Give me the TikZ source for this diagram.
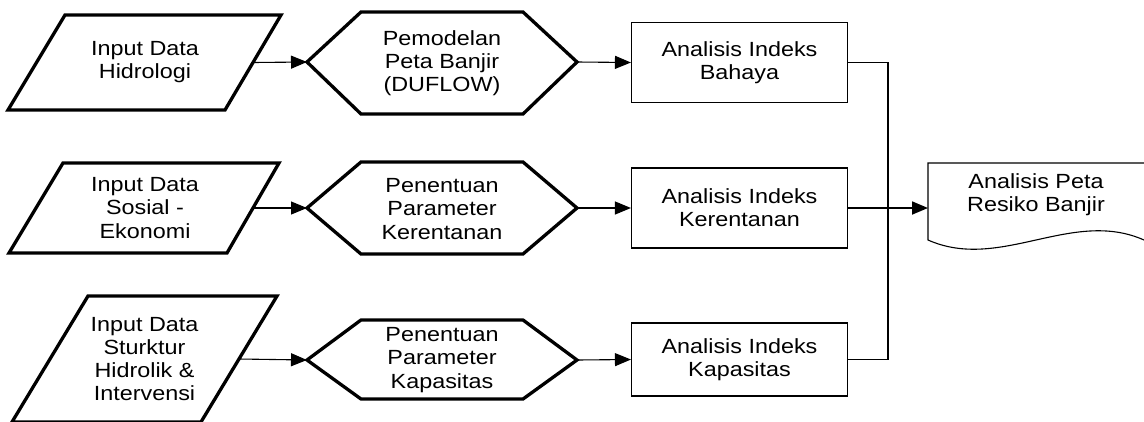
\documentclass[tikz,border=0pt]{standalone}
\usepackage{fontspec}
\setmainfont{Liberation Sans}[FakeStretch=1.14]
\usetikzlibrary{arrows.meta,calc}
\begin{document}
\begin{tikzpicture}[x=1pt,y=-1pt,
  thickshape/.style={line width=3.3pt, line join=miter},
  txt/.style={align=center, font=\fontsize{20.5}{23.2}\selectfont, inner sep=0pt},
  abox/.style={draw, line width=1.1pt, minimum width=216pt, align=center,
    font=\fontsize{20.5}{23.2}\selectfont, inner sep=0pt},
  thin/.style={line width=1.1pt},
  conn/.style={line width=1.1pt, -{Triangle[length=16pt,width=13pt]}}]
\useasboundingbox (0,0) rectangle (1144,421);
\clip (0,0) rectangle (1144,421);

% parallelograms (inputs)
\draw[thickshape] (65,15) -- (281,15) -- (225,110) -- (8,110) -- cycle;
\node[txt] (in1) at (145,62) {Input Data\\Hidrologi};
\coordinate (in1e) at (253,62.5);

\draw[thickshape] (63,163) -- (279,163) -- (227,253) -- (9,253) -- cycle;
\node[txt] (in2) at (145,208) {Input Data\\Sosial -\\Ekonomi};
\coordinate (in2e) at (253,208);

\draw[thickshape] (88,296) -- (277,296) -- (201,422) -- (12,422) -- cycle;
\node[txt] (in3) at (144.5,359) {Input Data\\Sturktur\\Hidrolik \&\\Intervensi};
\coordinate (in3e) at (239,359);

% hexagons (processes)
\draw[thickshape] (307,62) -- (361,12) -- (523,12) -- (577,62) -- (523,114) -- (361,114) -- cycle;
\node[txt] (hx1) at (442,63) {Pemodelan\\Peta Banjir\\(DUFLOW)};
\coordinate (hx1w) at (307,62);
\coordinate (hx1e) at (577,62);

\draw[thickshape] (307,208) -- (361,162) -- (523,162) -- (577,208) -- (523,254) -- (361,254) -- cycle;
\node[txt] (hx2) at (442,209) {Penentuan\\Parameter\\Kerentanan};
\coordinate (hx2w) at (307,208);
\coordinate (hx2e) at (577,208);

\draw[thickshape] (307,360) -- (361,320) -- (523,320) -- (577,360) -- (523,399) -- (361,399) -- cycle;
\node[txt] (hx3) at (442,360) {Penentuan\\Parameter\\Kapasitas};
\coordinate (hx3w) at (307,360);
\coordinate (hx3e) at (577,360);

% analysis boxes
\node[abox, minimum height=80.5pt] (b1) at (739.5,62.5) {Analisis Indeks\\Bahaya};
\node[abox, minimum height=80pt] (b2) at (739.5,208) {Analisis Indeks\\Kerentanan};
\node[abox, minimum height=73pt] (b3) at (739.5,359.5) {Analisis Indeks\\Kapasitas};

% document shape
\draw[thin] (1150,163) -- (928,163) -- (928,240)
  .. controls (1000,272) and (1072,208) .. (1144,240) -- (1150,243);
\node[txt] (doc) at (1036,195) {Analisis Peta\\Resiko Banjir};
\coordinate (docw) at (928,208);

% connectors
\draw[conn] (in1e) -- (hx1w);
\draw[conn] (in2e) -- (hx2w);
\draw[conn] (in3e) -- (hx3w);
\draw[conn] (hx1e) -- (b1.west);
\draw[conn] (hx2e) -- (b2.west);
\draw[conn] (hx3e) -- (b3.west);
\coordinate (jn) at (888,208);
\draw[thin] (b1.east) -| (jn);
\draw[thin] (b3.east) -| (jn);
\draw[thin] (b2.east) -- (jn);
\draw[conn, line width=1.8pt] (jn) -- (docw);
\end{tikzpicture}
\end{document}
